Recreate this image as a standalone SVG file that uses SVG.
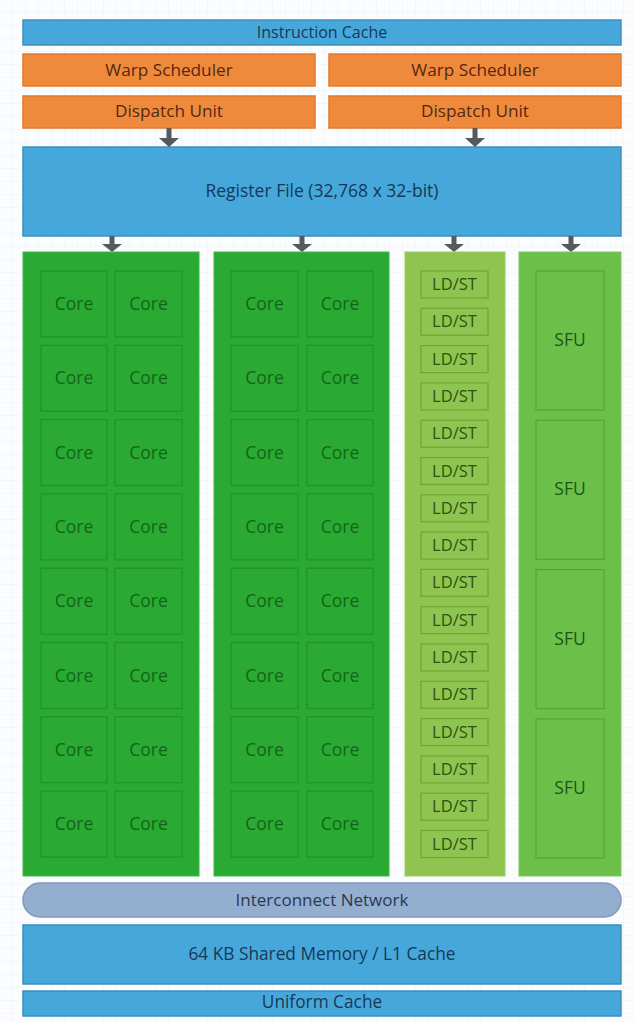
<svg xmlns="http://www.w3.org/2000/svg" width="634" height="1022" viewBox="0 0 634 1022">
<defs>
<pattern id="grid" width="13" height="13" patternUnits="userSpaceOnUse">
<path d="M13 0V13M0 13H13" fill="none" stroke="#eef1f4" stroke-width="1"/>
</pattern>
<style>
text{font-family:"Open Sans",Lato,"DejaVu Sans",sans-serif;text-anchor:middle;dominant-baseline:central;font-weight:500}
.blue{fill:#46a8da;stroke:#3b8fbe;stroke-width:1.5}
.bt{fill:#163858;font-size:17.3px}
.org{fill:#ef8a3c;stroke:#e27a2c;stroke-width:1.5}
.ot{fill:#552811;font-size:17.2px}
.gblk{fill:#2aaa32;stroke:#3dbb44;stroke-width:1}
.core{fill:#2aaa32;stroke:#1f9428;stroke-width:1.2}
.ct{fill:#13651a;font-size:17.5px}
.lblk{fill:#8ec44f;stroke:#9bcc60;stroke-width:1}
.ld{fill:#8ec44f;stroke:#6fa53a;stroke-width:1.2}
.lt{fill:#2b5610;font-size:16.5px}
.sblk{fill:#6cc04a;stroke:#7bc85a;stroke-width:1}
.sfu{fill:#6cc04a;stroke:#52a636;stroke-width:1.2}
.st{fill:#1a5714;font-size:17.5px}
.arr{fill:#555a5e}
</style>
</defs>
<rect width="634" height="1022" fill="#fbfcfd"/>
<rect width="634" height="1022" fill="url(#grid)"/>

<g id="instruction-cache">
<rect class="blue" x="23" y="20" width="598" height="25"/>
<text class="bt" x="322" y="31.5" style="font-size:16px">Instruction Cache</text>
</g>
<g id="warp-scheduler-1">
<rect class="org" x="23" y="54" width="292" height="32"/>
<text class="ot" x="169" y="69">Warp Scheduler</text>
</g>
<g id="warp-scheduler-2">
<rect class="org" x="329" y="54" width="292" height="32"/>
<text class="ot" x="475" y="69">Warp Scheduler</text>
</g>
<g id="dispatch-unit-1">
<rect class="org" x="23" y="96" width="292" height="32"/>
<text class="ot" x="169" y="110">Dispatch Unit</text>
</g>
<g id="dispatch-unit-2">
<rect class="org" x="329" y="96" width="292" height="32"/>
<text class="ot" x="475" y="110">Dispatch Unit</text>
</g>
<g id="register-file">
<rect class="blue" x="23" y="147" width="598" height="89"/>
<text class="bt" x="322" y="190" style="font-size:17.5px">Register File (32,768 x 32-bit)</text>
</g>

<g id="connectors">
<path class="arr" d="M166.5 128h5v10h7.5l-10 9l-10-9h7.5z"/>
<path class="arr" d="M472.5 128h5v10h7.5l-10 9l-10-9h7.5z"/>
<path class="arr" d="M109.5 236h5v8h7.5l-10 8l-10-8h7.5z"/>
<path class="arr" d="M299.5 236h5v8h7.5l-10 8l-10-8h7.5z"/>
<path class="arr" d="M451.5 236h5v8h7.5l-10 8l-10-8h7.5z"/>
<path class="arr" d="M568.5 236h5v8h7.5l-10 8l-10-8h7.5z"/>
</g>

<g id="core-block-1">
<rect class="gblk" x="23" y="252" width="176" height="624"/>
<rect class="core" x="41" y="271" width="66" height="66"/><text class="ct" x="74" y="303">Core</text>
<rect class="core" x="115" y="271" width="67" height="66"/><text class="ct" x="148.5" y="303">Core</text>
<rect class="core" x="41" y="345.3" width="66" height="66"/><text class="ct" x="74" y="377.3">Core</text>
<rect class="core" x="115" y="345.3" width="67" height="66"/><text class="ct" x="148.5" y="377.3">Core</text>
<rect class="core" x="41" y="419.6" width="66" height="66"/><text class="ct" x="74" y="451.6">Core</text>
<rect class="core" x="115" y="419.6" width="67" height="66"/><text class="ct" x="148.5" y="451.6">Core</text>
<rect class="core" x="41" y="493.9" width="66" height="66"/><text class="ct" x="74" y="525.9">Core</text>
<rect class="core" x="115" y="493.9" width="67" height="66"/><text class="ct" x="148.5" y="525.9">Core</text>
<rect class="core" x="41" y="568.2" width="66" height="66"/><text class="ct" x="74" y="600.2">Core</text>
<rect class="core" x="115" y="568.2" width="67" height="66"/><text class="ct" x="148.5" y="600.2">Core</text>
<rect class="core" x="41" y="642.5" width="66" height="66"/><text class="ct" x="74" y="674.5">Core</text>
<rect class="core" x="115" y="642.5" width="67" height="66"/><text class="ct" x="148.5" y="674.5">Core</text>
<rect class="core" x="41" y="716.8" width="66" height="66"/><text class="ct" x="74" y="748.8">Core</text>
<rect class="core" x="115" y="716.8" width="67" height="66"/><text class="ct" x="148.5" y="748.8">Core</text>
<rect class="core" x="41" y="791.1" width="66" height="66"/><text class="ct" x="74" y="823.1">Core</text>
<rect class="core" x="115" y="791.1" width="67" height="66"/><text class="ct" x="148.5" y="823.1">Core</text>
</g>

<g id="core-block-2">
<rect class="gblk" x="214" y="252" width="175" height="624"/>
<rect class="core" x="231" y="271" width="67" height="66"/><text class="ct" x="264.5" y="303">Core</text>
<rect class="core" x="307" y="271" width="66" height="66"/><text class="ct" x="340" y="303">Core</text>
<rect class="core" x="231" y="345.3" width="67" height="66"/><text class="ct" x="264.5" y="377.3">Core</text>
<rect class="core" x="307" y="345.3" width="66" height="66"/><text class="ct" x="340" y="377.3">Core</text>
<rect class="core" x="231" y="419.6" width="67" height="66"/><text class="ct" x="264.5" y="451.6">Core</text>
<rect class="core" x="307" y="419.6" width="66" height="66"/><text class="ct" x="340" y="451.6">Core</text>
<rect class="core" x="231" y="493.9" width="67" height="66"/><text class="ct" x="264.5" y="525.9">Core</text>
<rect class="core" x="307" y="493.9" width="66" height="66"/><text class="ct" x="340" y="525.9">Core</text>
<rect class="core" x="231" y="568.2" width="67" height="66"/><text class="ct" x="264.5" y="600.2">Core</text>
<rect class="core" x="307" y="568.2" width="66" height="66"/><text class="ct" x="340" y="600.2">Core</text>
<rect class="core" x="231" y="642.5" width="67" height="66"/><text class="ct" x="264.5" y="674.5">Core</text>
<rect class="core" x="307" y="642.5" width="66" height="66"/><text class="ct" x="340" y="674.5">Core</text>
<rect class="core" x="231" y="716.8" width="67" height="66"/><text class="ct" x="264.5" y="748.8">Core</text>
<rect class="core" x="307" y="716.8" width="66" height="66"/><text class="ct" x="340" y="748.8">Core</text>
<rect class="core" x="231" y="791.1" width="67" height="66"/><text class="ct" x="264.5" y="823.1">Core</text>
<rect class="core" x="307" y="791.1" width="66" height="66"/><text class="ct" x="340" y="823.1">Core</text>
</g>

<g id="ldst-block">
<rect class="lblk" x="405" y="252" width="100" height="624"/>
<rect class="ld" x="421" y="271" width="67" height="27"/><text class="lt" x="454.5" y="283.5">LD/ST</text>
<rect class="ld" x="421" y="308.3" width="67" height="27"/><text class="lt" x="454.5" y="320.8">LD/ST</text>
<rect class="ld" x="421" y="345.6" width="67" height="27"/><text class="lt" x="454.5" y="358.1">LD/ST</text>
<rect class="ld" x="421" y="382.9" width="67" height="27"/><text class="lt" x="454.5" y="395.4">LD/ST</text>
<rect class="ld" x="421" y="420.2" width="67" height="27"/><text class="lt" x="454.5" y="432.7">LD/ST</text>
<rect class="ld" x="421" y="457.5" width="67" height="27"/><text class="lt" x="454.5" y="470">LD/ST</text>
<rect class="ld" x="421" y="494.8" width="67" height="27"/><text class="lt" x="454.5" y="507.3">LD/ST</text>
<rect class="ld" x="421" y="532.1" width="67" height="27"/><text class="lt" x="454.5" y="544.6">LD/ST</text>
<rect class="ld" x="421" y="569.4" width="67" height="27"/><text class="lt" x="454.5" y="581.9">LD/ST</text>
<rect class="ld" x="421" y="606.7" width="67" height="27"/><text class="lt" x="454.5" y="619.2">LD/ST</text>
<rect class="ld" x="421" y="644" width="67" height="27"/><text class="lt" x="454.5" y="656.5">LD/ST</text>
<rect class="ld" x="421" y="681.3" width="67" height="27"/><text class="lt" x="454.5" y="693.8">LD/ST</text>
<rect class="ld" x="421" y="718.6" width="67" height="27"/><text class="lt" x="454.5" y="731.1">LD/ST</text>
<rect class="ld" x="421" y="755.9" width="67" height="27"/><text class="lt" x="454.5" y="768.4">LD/ST</text>
<rect class="ld" x="421" y="793.2" width="67" height="27"/><text class="lt" x="454.5" y="805.7">LD/ST</text>
<rect class="ld" x="421" y="830.5" width="67" height="27"/><text class="lt" x="454.5" y="843">LD/ST</text>
</g>

<g id="sfu-block">
<rect class="sblk" x="519" y="252" width="102" height="624"/>
<rect class="sfu" x="536" y="271" width="68" height="139"/><text class="st" x="570" y="339">SFU</text>
<rect class="sfu" x="536" y="420.3" width="68" height="139"/><text class="st" x="570" y="488.3">SFU</text>
<rect class="sfu" x="536" y="569.6" width="68" height="139"/><text class="st" x="570" y="637.6">SFU</text>
<rect class="sfu" x="536" y="718.9" width="68" height="139"/><text class="st" x="570" y="786.9">SFU</text>
</g>

<g id="interconnect-network">
<rect x="23" y="883" width="598" height="34" rx="17" fill="#94aed0" stroke="#8198ba" stroke-width="1.5"/>
<text class="bt" x="322" y="899" style="fill:#2a3853;font-size:17px">Interconnect Network</text>
</g>
<g id="shared-memory">
<rect class="blue" x="23" y="925" width="598" height="59"/>
<text class="bt" x="322" y="953">64 KB Shared Memory / L1 Cache</text>
</g>
<g id="uniform-cache">
<rect class="blue" x="23" y="991" width="598" height="25"/>
<text class="bt" x="322" y="1001">Uniform Cache</text>
</g>
</svg>
